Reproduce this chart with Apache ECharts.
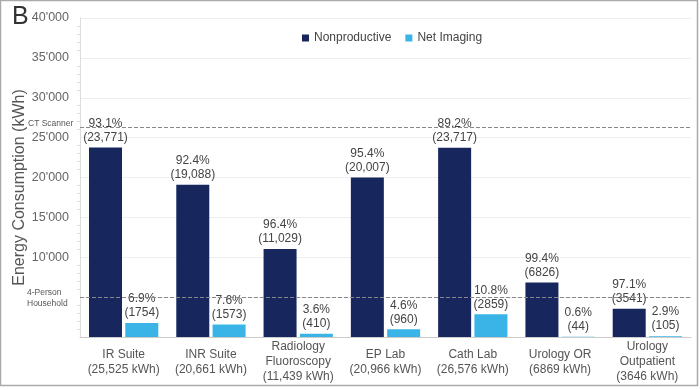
<!DOCTYPE html>
<html>
<head>
<meta charset="utf-8">
<script src="https://cdn.jsdelivr.net/npm/echarts@6/dist/echarts.min.js"></script>
<style>html,body{margin:0;padding:0;background:#fff}#c{width:700px;height:390px}</style>
</head>
<body>
<div id="c"></div>
<script>
const categories = ['IR Suite', 'INR Suite', 'Radiology\nFluoroscopy', 'EP Lab', 'Cath Lab', 'Urology OR', 'Urology\nOutpatient'];
const totals = ['25,525', '20,661', '11,439', '20,966', '26,576', '6869', '3646'];
const nonproductive = [23771, 19088, 11029, 20007, 23717, 6826, 3541];
const nonproductivePct = ['93.1', '92.4', '96.4', '95.4', '89.2', '99.4', '97.1'];
const netImaging = [1754, 1573, 410, 960, 2859, 44, 105];
const netImagingPct = ['6.9', '7.6', '3.6', '4.6', '10.8', '0.6', '2.9'];
const references = [{name: 'CT Scanner', value: 26300}, {name: '4-Person\nHousehold', value: 5000}];
const yTicks = [0, 5000, 10000, 15000, 20000, 25000, 30000, 35000, 40000];

const fmtComma = v => v >= 10000 ? v.toLocaleString('en-US') : String(v);
const fmtApos = v => v >= 10000 ? String(v).replace(/(\d)(?=(\d{3})+$)/g, "$1'") : String(v);

const chart = echarts.init(document.getElementById('c'));
chart.setOption({
  animation: false,
  textStyle: {fontFamily: 'Liberation Sans, Arial, sans-serif'},
  title: {text: 'B', left: 7, top: 0, textStyle: {fontSize: 25, fontWeight: 'normal', color: '#333'}},
  graphic: [{type: 'rect', shape: {x: 0.5, y: 0.5, width: 697, height: 385}, style: {fill: 'none', stroke: '#aaa', lineWidth: 1.5}, silent: true}],
  legend: {
    top: 27, left: 297, itemWidth: 7, itemHeight: 7, itemGap: 14,
    textStyle: {fontSize: 12, color: '#444'},
    data: [{name: 'Nonproductive', icon: 'rect'}, {name: 'Net Imaging', icon: 'rect'}]
  },
  grid: {left: 80, right: 9, top: 18, bottom: 53, outerBoundsMode: 'none', containLabel: false},
  xAxis: {
    type: 'category',
    data: categories.map((c, i) => c + '\n(' + totals[i] + ' kWh)'),
    axisLine: {lineStyle: {color: '#ccc'}},
    axisTick: {show: false},
    axisLabel: {fontSize: 12, color: '#555', lineHeight: 15, verticalAlign: 'middle', margin: 25, interval: 0}
  },
  yAxis: {
    type: 'value', min: 0, max: 40000, interval: 5000,
    name: 'Energy Consumption (kWh)', nameLocation: 'middle', nameGap: 52, nameMoveOverlap: false,
    nameTextStyle: {fontSize: 16, color: '#555', padding: [0, 20, 0, 0]},
    axisLine: {show: true, lineStyle: {color: '#ddd'}},
    axisTick: {show: false},
    minorTick: {show: true, splitNumber: 5, length: 3, lineStyle: {color: '#ddd'}},
    splitLine: {lineStyle: {color: '#eee'}},
    axisLabel: {fontSize: 12.5, color: '#666', margin: 11,
      formatter: v => (yTicks.indexOf(v) >= 2 ? fmtApos(v) : '')}
  },
  series: [
    {
      name: 'Nonproductive', type: 'bar', data: nonproductive, barWidth: 33, barGap: '10%',
      itemStyle: {color: '#17275d'},
      label: {show: true, position: 'top', distance: 3, fontSize: 12, lineHeight: 14, color: '#444',
        formatter: p => nonproductivePct[p.dataIndex] + '%\n(' + fmtComma(p.value) + ')'},
      markLine: {
        silent: true, symbol: 'none',
        lineStyle: {type: 'dashed', color: '#888', width: 1},
        label: {position: 'start', fontSize: 8.5, color: '#555', lineHeight: 11, align: 'left', distance: 0, formatter: p => p.name},
        data: references.map((r, i) => ({name: r.name, yAxis: r.value, label: {offset: i === 0 ? [-52, -4] : [-53, 1]}}))
      }
    },
    {
      name: 'Net Imaging', type: 'bar', data: netImaging, barWidth: 33,
      itemStyle: {color: '#3ab4e6'},
      label: {show: true, position: 'top', distance: 3, fontSize: 12, lineHeight: 14, color: '#444',
        formatter: p => netImagingPct[p.dataIndex] + '%\n(' + fmtComma(p.value) + ')'}
    }
  ]
});
</script>
</body>
</html>
